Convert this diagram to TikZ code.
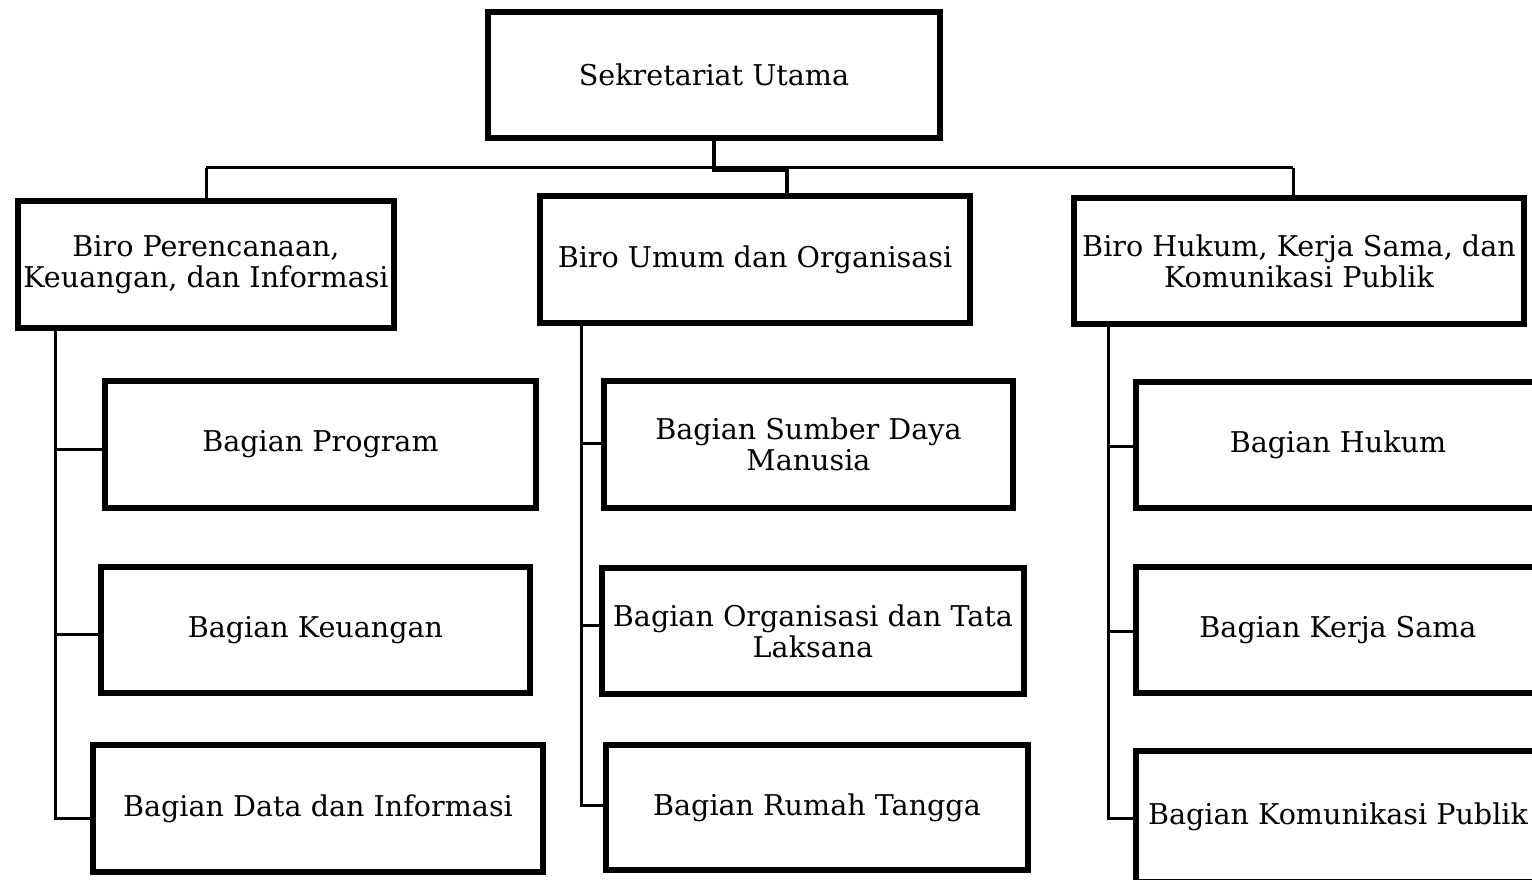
\documentclass[tikz,border=0pt]{standalone}
\usepackage{fontspec}
\setmainfont{DejaVu Serif}
\begin{document}
\begin{tikzpicture}[x=1pt,y=-1pt,
  unit/.style={draw=black, line width=6pt, fill=white, align=center, inner sep=0pt,
    font={\fontsize{28.6}{31}\selectfont}},
  link/.style={draw=black, line width=3pt}]
\useasboundingbox (0,0) rectangle (1532,880);
\clip (0,0) rectangle (1532,880);

% top level
\node[unit, minimum width=452, minimum height=126] (sek) at (714,75) {Sekretariat Utama};

% bureaus
\node[unit, minimum width=376, minimum height=127] (b1) at (206,264.5) {Biro Perencanaan,\\Keuangan, dan Informasi};
\node[unit, minimum width=430, minimum height=127] (b2) at (755,259.5) {Biro Umum dan Organisasi};
\node[unit, minimum width=450, minimum height=126] (b3) at (1299,261) {Biro Hukum, Kerja Sama, dan\\Komunikasi Publik};

% sections under b1
\node[unit, minimum width=431, minimum height=127] (p1) at (320.5,444.5) {Bagian Program};
\node[unit, minimum width=429, minimum height=126] (p2) at (315.5,630) {Bagian Keuangan};
\node[unit, minimum width=450, minimum height=127] (p3) at (318,808.5) {Bagian Data dan Informasi};

% sections under b2
\node[unit, minimum width=409, minimum height=127] (u1) at (808.5,444.5) {Bagian Sumber Daya\\Manusia};
\node[unit, minimum width=422, minimum height=126] (u2) at (813,631) {Bagian Organisasi dan Tata\\Laksana};
\node[unit, minimum width=422, minimum height=125] (u3) at (817,807.5) {Bagian Rumah Tangga};

% sections under b3
\node[unit, minimum width=404, minimum height=126] (h1) at (1338,445) {Bagian Hukum};
\node[unit, minimum width=404, minimum height=126] (h2) at (1338,630) {Bagian Kerja Sama};
\node[unit, minimum width=404, minimum height=131] (h3) at (1338,816.5) {Bagian Komunikasi Publik};

% top-level connectors
\coordinate (busL) at (206,168);
\coordinate (busR) at (1293,168);
\draw[link] (busL) -- (busR);
\draw[link] (busL) -- (b1.north -| busL);
\draw[link] (busR) -- (b3.north -| busR);
\draw[link, line width=3.5pt] (sek.south) -- (714,170) -| (b2.north -| 787,0);

% bureau 1 spine
\coordinate (s1) at (55,0);
\draw[link] (b1.south -| s1) -- (55,818) -- (p3.west |- 0,818);
\draw[link] (55,449) -- (p1.west |- 0,449);
\draw[link] (55,634) -- (p2.west |- 0,634);

% bureau 2 spine
\coordinate (s2) at (581,0);
\draw[link] (b2.south -| s2) -- (581,805) -- (u3.west |- 0,805);
\draw[link] (581,443) -- (u1.west |- 0,443);
\draw[link] (581,625) -- (u2.west |- 0,625);

% bureau 3 spine
\coordinate (s3) at (1108,0);
\draw[link] (b3.south -| s3) -- (1108,818) -- (h3.west |- 0,818);
\draw[link] (1108,446) -- (h1.west |- 0,446);
\draw[link] (1108,631) -- (h2.west |- 0,631);
\end{tikzpicture}
\end{document}
